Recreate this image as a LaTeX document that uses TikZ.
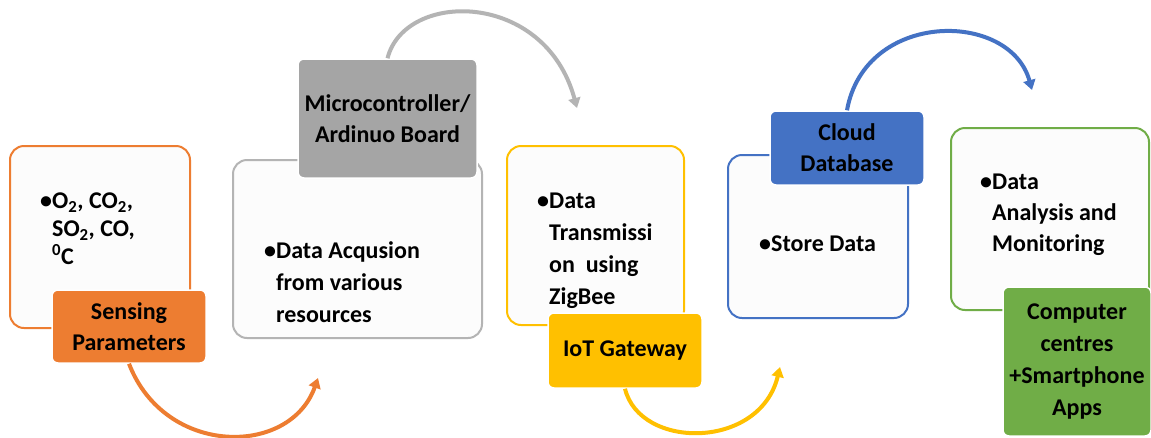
\documentclass[tikz,border=0pt]{standalone}
\usepackage{fontspec}
\setmainfont{Carlito}
\usetikzlibrary{arrows.meta}
\definecolor{cOr}{HTML}{ED7D31}
\definecolor{cGr}{HTML}{A5A5A5}
\definecolor{cGrL}{HTML}{B4B4B4}
\definecolor{cYe}{HTML}{FFC000}
\definecolor{cBl}{HTML}{4472C4}
\definecolor{cGn}{HTML}{70AD47}
\definecolor{cFill}{HTML}{FCFCFC}
\newcommand{\hb}{\hphantom{\textbullet}}
\begin{document}
\begin{tikzpicture}[x=1pt,y=-1pt,
  wbox/.style={draw, line width=2pt, fill=cFill, rounded corners=14pt},
  lbl/.style={rounded corners=6pt, draw=white, line width=1.5pt, font=\bfseries\fontsize{24}{31}\selectfont, align=center, inner sep=0pt},
  body/.style={font=\bfseries\fontsize{24}{32}\selectfont, align=left, anchor=north west, inner sep=0pt},
  arr/.style={line width=4pt, -{Triangle[length=10pt,width=12pt]}}]
\useasboundingbox[fill=white] (0,0) rectangle (1151,437);

% boxes
\node[wbox, draw=cOr, minimum width=180pt, minimum height=182pt] (b1) at (100,237) {};
\node[wbox, draw=cGrL, minimum width=249pt, minimum height=178pt] (b2) at (357.5,249) {};
\node[wbox, draw=cYe, minimum width=177pt, minimum height=179pt] (b3) at (595.5,235.5) {};
\node[wbox, draw=cBl, minimum width=180pt, minimum height=163pt] (b4) at (818,236.5) {};
\node[wbox, draw=cGn, minimum width=198pt, minimum height=182pt] (b5) at (1050,219) {};

% body texts
\node[body, font=\bfseries\fontsize{24}{28}\selectfont] (t1) at (40,193) {\textbullet O\textsubscript{2}, CO\textsubscript{2},\\ \hb SO\textsubscript{2}, CO,\\ \hb\textsuperscript{0}C};
\node[body] (t2) at (264,241) {\textbullet Data Acqusion\\ \hb from various\\ \hb resources};
\node[body] (t3) at (537,193) {\textbullet Data\\ \hb Transmissi\\ \hb on~ using\\ \hb ZigBee};
\node[body] (t4) at (759,236) {\textbullet Store Data};
\node[body, font=\bfseries\fontsize{24}{31}\selectfont] (t5) at (980,174) {\textbullet Data\\ \hb Analysis and\\ \hb Monitoring};

% labels
\node[lbl, fill=cOr, minimum width=154pt, minimum height=73pt] (l1) at (129,326.5) {Sensing\\Parameters};
\node[lbl, fill=cGr, minimum width=179pt, minimum height=119pt] (l2) at (387.5,118.5) {Microcontroller/\\Ardinuo Board};
\node[lbl, fill=cYe, minimum width=154pt, minimum height=75pt] (l3) at (625,350.5) {IoT Gateway};
\node[lbl, fill=cBl, minimum width=154pt, minimum height=74pt] (l4) at (847,148) {Cloud\\Database};
\node[lbl, fill=cGn, minimum width=148pt, minimum height=149pt, font=\bfseries\fontsize{24}{32}\selectfont] (l5) at (1077,361.5) {Computer\\centres\\+Smartphone\\Apps};

% arrow tips
\coordinate (e1) at (318,378);
\coordinate (e2) at (577,108);
\coordinate (e3) at (780,367);
\coordinate (e4) at (1032,90);

\draw[arr, cOr] (l1.south) .. controls (165,457) and (290,457) .. (e1);
\draw[arr, cGrL] (l2.north) .. controls (405,-10) and (545,-10) .. (e2);
\draw[arr, cYe] (l3.south) .. controls (640,450) and (760,450) .. (e3);
\draw[arr, cBl] (l4.north) .. controls (865,10) and (1010,10) .. (e4);
\end{tikzpicture}
\end{document}
